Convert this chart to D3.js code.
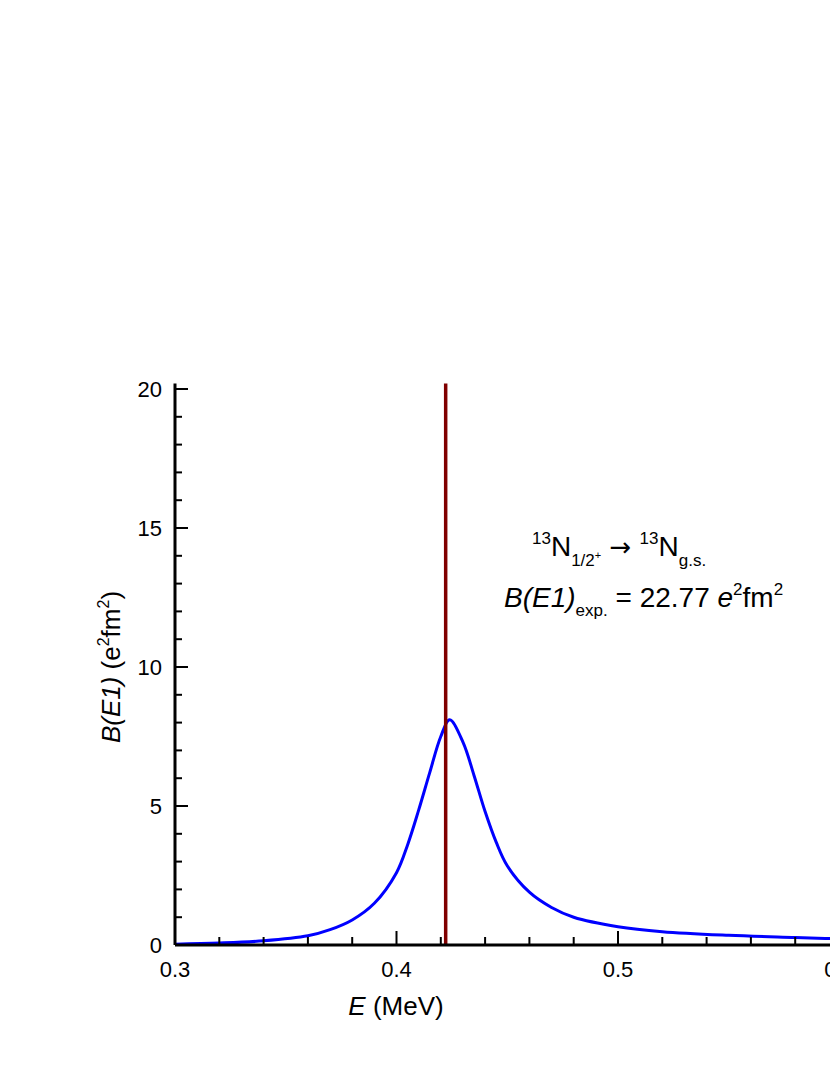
<!DOCTYPE html>
<html><head><meta charset="utf-8">
<script src="https://cdn.jsdelivr.net/npm/d3@7"></script>
<style>body{margin:0;background:#fff}svg{font-family:"Liberation Sans",Arial,sans-serif}</style>
</head><body><svg id="c" width="830" height="1075"></svg>
<script>
const energy = [0.30,0.32,0.34,0.36,0.37,0.38,0.39,0.40,0.405,0.41,0.415,0.42,0.424,0.43,0.435,0.44,0.445,0.45,0.46,0.47,0.48,0.50,0.52,0.55,0.58,0.60,0.62];
const bE1 = [0.03,0.07,0.15,0.33,0.55,0.9,1.5,2.6,3.6,4.85,6.2,7.5,8.1,7.3,6.1,4.8,3.7,2.85,1.9,1.35,1.0,0.66,0.48,0.35,0.27,0.22,0.19];
const expE = 0.4222, expB = 22.77;
const xMajor = [0.3,0.4,0.5,0.6], yMajor = [0,5,10,15,20];

const svg = d3.select("#c");
const x = d3.scaleLinear().domain([0.3,0.6]).range([175,839.5]);
const y = d3.scaleLinear().domain([0,20]).range([945,389]);
const yTop = y(20.2);
svg.append("defs").append("clipPath").attr("id","cp").append("rect")
  .attr("x",175).attr("y",yTop).attr("width",700).attr("height",945-yTop);
const g = svg.append("g").attr("clip-path","url(#cp)");
g.append("path").datum(energy.map((e,i)=>[e,bE1[i]]))
  .attr("d",d3.line().x(d=>x(d[0])).y(d=>y(d[1])).curve(d3.curveCatmullRom.alpha(0.5)))
  .attr("fill","none").attr("stroke","#0000ff").attr("stroke-width",3);
g.append("line").attr("x1",x(expE)).attr("x2",x(expE)).attr("y1",y(0)).attr("y2",y(expB))
  .attr("stroke","#800000").attr("stroke-width",3.5);

const ax = svg.append("g").attr("stroke","#000");
ax.append("line").attr("x1",175).attr("x2",830).attr("y1",945).attr("y2",945).attr("stroke-width",3);
ax.append("line").attr("x1",175).attr("x2",175).attr("y1",yTop).attr("y2",945).attr("stroke-width",3);
d3.range(0.3,0.621,0.02).forEach(v=>{
  const maj = xMajor.some(m=>Math.abs(m-v)<1e-6);
  ax.append("line").attr("x1",x(v)).attr("x2",x(v)).attr("y1",945).attr("y2",945-(maj?14:8)).attr("stroke-width",2);
});
d3.range(0,20.01,1).forEach(v=>{
  const maj = v%5===0;
  ax.append("line").attr("x1",175).attr("x2",175+(maj?13:7)).attr("y1",y(v)).attr("y2",y(v)).attr("stroke-width",2);
});
xMajor.forEach(v=>svg.append("text").attr("x",x(v)).attr("y",977).attr("text-anchor","middle")
  .attr("font-size",22).text(v.toFixed(1)));
yMajor.forEach(v=>svg.append("text").attr("x",162).attr("y",y(v)+8).attr("text-anchor","end")
  .attr("font-size",22).text(v));

const xt = svg.append("text").attr("x",396).attr("y",1015).attr("text-anchor","middle").attr("font-size",26);
xt.append("tspan").attr("font-style","italic").text("E");
xt.append("tspan").text(" (MeV)");
const yt = svg.append("text").attr("transform","translate(120,667) rotate(-90)").attr("text-anchor","middle").attr("font-size",26);
yt.append("tspan").attr("font-style","italic").text("B(E1)");
yt.append("tspan").text(" (e");
yt.append("tspan").attr("font-size",16).attr("dy",-11).text("2");
yt.append("tspan").attr("dy",11).text("fm");
yt.append("tspan").attr("font-size",16).attr("dy",-11).text("2");
yt.append("tspan").attr("dy",11).text(")");

const a1 = svg.append("text").attr("x",532).attr("y",556).attr("font-size",28);
a1.append("tspan").attr("font-size",17).attr("dy",-12).text("13");
a1.append("tspan").attr("dy",12).text("N");
a1.append("tspan").attr("font-size",17).attr("dy",10).text("1/2");
a1.append("tspan").attr("font-size",11).attr("dy",-7).text("+");
a1.append("tspan").attr("dy",-3).attr("font-family","DejaVu Sans").attr("font-size",26).text(" \u2192 ");
a1.append("tspan").attr("font-size",17).attr("dy",-12).text("13");
a1.append("tspan").attr("dy",12).text("N");
a1.append("tspan").attr("font-size",17).attr("dy",10).text("g.s.");
const a2 = svg.append("text").attr("x",504).attr("y",607).attr("font-size",28);
a2.append("tspan").attr("font-style","italic").text("B(E1)");
a2.append("tspan").attr("font-size",17).attr("dy",9).text("exp.");
a2.append("tspan").attr("dy",-9).text(" = 22.77 ");
a2.append("tspan").attr("font-style","italic").text("e");
a2.append("tspan").attr("font-size",17).attr("dy",-12).text("2");
a2.append("tspan").attr("dy",12).text("fm");
a2.append("tspan").attr("font-size",17).attr("dy",-12).text("2");
</script></body></html>
